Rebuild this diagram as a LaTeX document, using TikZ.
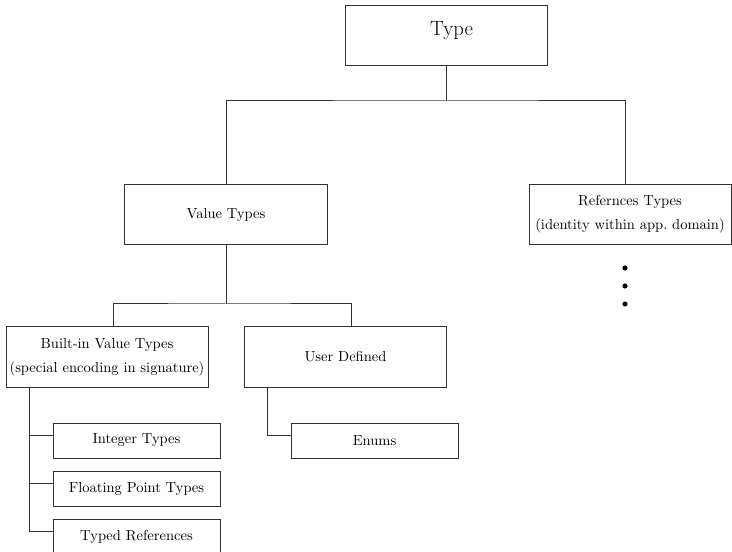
\documentclass[tikz,border=0pt]{standalone}
\usetikzlibrary{calc}
\begin{document}
\begin{tikzpicture}[x=0.75pt,y=-0.75pt,
  box/.style={draw=black!80, line width=0.75pt, rectangle, inner sep=0pt,
    align=center, font=\fontsize{10.9}{18}\selectfont},
  bigbox/.style={box, minimum width=152pt, minimum height=44.5pt},
  midbox/.style={box, minimum width=152pt, minimum height=45pt},
  leafbox/.style={box, minimum width=125.25pt, minimum height=26.25pt},
  link/.style={draw=black!80, line width=0.75pt},
  dot/.style={circle, fill=black, inner sep=0pt, minimum size=3.9pt}]
\useasboundingbox (0,0) rectangle (732,552);

% boxes
\node[bigbox] (type) at (446.5,35.5) {};
\node[anchor=base, font=\fontsize{15.5}{18}\selectfont] (typetext) at (451.5,36) {Type};
\node[bigbox] (value) at (226,214.5) {Value Types};
\node[bigbox, minimum width=151.5pt] (refs) at (630,214.5)
  {Refernces Types\\(identity within app.\ domain)};
\node[midbox, minimum width=151.5pt] (builtin) at (107,357)
  {Built-in Value Types\\(special encoding in signature)};
\node[midbox] (user) at (345.5,357) {User Defined};
\node[leafbox] (int) at (136.5,440.5) {Integer Types};
\node[leafbox] (float) at (136.5,488.5) {Floating Point Types};
\node[leafbox] (typed) at (136.5,536.5) {Typed References};
\node[leafbox] (enums) at (374.5,440.5) {Enums};

% ellipsis under the reference types
\node[dot] (d1) at (625,268) {};
\node[dot] (d2) at (625,286) {};
\node[dot] (d3) at (625,304) {};

% first level
\coordinate (j0) at (446.5,101);
\draw[link] (type.south) -- (j0);
\draw[link] (value.north) |- (j0) -| ($(refs.north)+(-5,0)$);

% value types
\coordinate (j1) at (226,304);
\draw[link] (value.south) -- (j1);
\draw[link] ($(builtin.north)+(6,0)$) |- (j1) -| ($(user.north)+(5.5,0)$);

% built-in value types
\coordinate (bspine) at ($(builtin.south west)+(24,0)$);
\draw[link] (bspine) |- ($(typed.west)+(0,-5.5)$);
\draw[link] ($(int.west)+(0,-5.5)$) -| (bspine);
\draw[link] ($(float.west)+(0,-5.5)$) -| (bspine);

% user defined
\coordinate (uspine) at ($(user.south west)+(24,0)$);
\draw[link] (uspine) |- ($(enums.west)+(0,-5.5)$);
\end{tikzpicture}
\end{document}
